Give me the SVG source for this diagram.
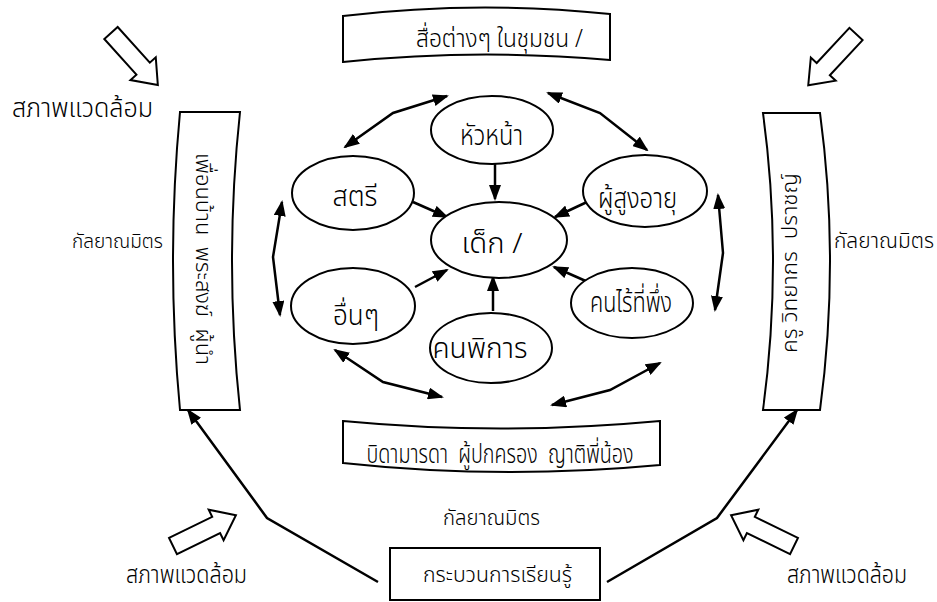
<svg xmlns="http://www.w3.org/2000/svg" width="937" height="602" viewBox="0 0 937 602">
<style>
  .shape { fill: #fff; stroke: #000; stroke-width: 2; }
  .conn { fill: none; stroke: #000; stroke-width: 2.5; }
  .t { font-family: "Noto Sans Thai", "Noto Sans", "DejaVu Sans", sans-serif; fill: #000; text-anchor: middle; font-weight: 300; }
  .blk { fill: #fff; stroke: #000; stroke-width: 2; stroke-linejoin: miter; }
</style>
<defs>
  <marker id="ah" viewBox="0 0 16 12" refX="14" refY="6" markerWidth="16" markerHeight="12" markerUnits="userSpaceOnUse" orient="auto-start-reverse">
    <path d="M0,0 L16,6 L0,12 Z" fill="#000"/>
  </marker>
  <path id="blockArrow" d="M0,-9 L48,-9 L48,-17 L70,0 L48,17 L48,9 L0,9 Z"/>
</defs>
<rect width="937" height="602" fill="#fff"/>

<g id="env-arrows">
  <use href="#blockArrow" class="blk" transform="translate(111,33) rotate(48)"/>
  <use href="#blockArrow" class="blk" transform="translate(856,34) rotate(133)"/>
  <use href="#blockArrow" class="blk" transform="translate(173,546) rotate(-26)"/>
  <use href="#blockArrow" class="blk" transform="translate(794,546) rotate(206)"/>
</g>

<g id="connectors">
  <line class="conn" x1="495" y1="164" x2="495" y2="199" marker-end="url(#ah)"/>
  <line class="conn" x1="413" y1="202" x2="447" y2="217" marker-end="url(#ah)"/>
  <line class="conn" x1="415" y1="287" x2="447" y2="270" marker-end="url(#ah)"/>
  <line class="conn" x1="493" y1="311" x2="493" y2="277" marker-end="url(#ah)"/>
  <line class="conn" x1="587" y1="202" x2="555" y2="217" marker-end="url(#ah)"/>
  <line class="conn" x1="588" y1="282" x2="554" y2="267" marker-end="url(#ah)"/>
  <polyline class="conn" points="345,147 393,113 447,96" marker-start="url(#ah)" marker-end="url(#ah)"/>
  <polyline class="conn" points="548,93 600,113 647,150" marker-start="url(#ah)" marker-end="url(#ah)"/>
  <polyline class="conn" points="282,202 273,257 280,315" marker-start="url(#ah)" marker-end="url(#ah)"/>
  <polyline class="conn" points="718,195 723,253 715,310" marker-start="url(#ah)" marker-end="url(#ah)"/>
  <polyline class="conn" points="335,350 383,382 442,397" marker-start="url(#ah)" marker-end="url(#ah)"/>
  <polyline class="conn" points="552,405 610,390 660,363" marker-start="url(#ah)" marker-end="url(#ah)"/>
  <polyline class="conn" points="378,582 267,518 188,410" marker-end="url(#ah)"/>
  <polyline class="conn" points="607,582 717,518 797,410" marker-end="url(#ah)"/>
</g>

<g id="banner-top">
  <path class="shape" d="M343,16 Q476,0 610,14 L610,60 Q476,48 343,62 Z"/>
  <text class="t" x="499.5" y="47" font-size="25" textLength="167" lengthAdjust="spacingAndGlyphs">สื่อต่างๆ ในชุมชน /</text>
</g>

<g id="banner-bottom">
  <path class="shape" d="M343,421 Q500,436 660,421 L660,465 Q500,480 343,463 Z"/>
  <text class="t" x="500" y="463" font-size="26" textLength="267" lengthAdjust="spacingAndGlyphs" xml:space="preserve">บิดามารดา  ผู้ปกครอง  ญาติพี่น้อง</text>
</g>

<g id="scroll-left">
  <path class="shape" d="M180,112 L240,112 Q224,261 240,410 L180,410 Q166,261 180,112 Z"/>
  <text class="t" font-size="22" textLength="212" lengthAdjust="spacingAndGlyphs" transform="translate(196,259) rotate(90)" xml:space="preserve">เพื่อนบ้าน  พระสงฆ์  ผู้นำ</text>
</g>

<g id="scroll-right">
  <path class="shape" d="M763,113 L820,113 Q840,261 820,410 L763,410 Q783,261 763,113 Z"/>
  <text class="t" font-size="22" textLength="180" lengthAdjust="spacingAndGlyphs" transform="translate(797,263) rotate(-90)" xml:space="preserve">ครู วิทยากร  ปราชญ์</text>
</g>

<g id="node-head">
  <ellipse class="shape" cx="492" cy="130" rx="61" ry="34"/>
  <text class="t" x="491.5" y="145" font-size="29" textLength="63" lengthAdjust="spacingAndGlyphs">หัวหน้า</text>
</g>
<g id="node-women">
  <ellipse class="shape" cx="353" cy="193" rx="61" ry="37"/>
  <text class="t" x="355" y="206" font-size="28" textLength="45" lengthAdjust="spacingAndGlyphs">สตรี</text>
</g>
<g id="node-child">
  <ellipse class="shape" cx="499" cy="240" rx="68" ry="38"/>
  <text class="t" x="492" y="253" font-size="28" textLength="61" lengthAdjust="spacingAndGlyphs">เด็ก /</text>
</g>
<g id="node-others">
  <ellipse class="shape" cx="353" cy="306" rx="62" ry="38"/>
  <text class="t" x="356" y="325" font-size="28" textLength="46" lengthAdjust="spacingAndGlyphs">อื่นๆ</text>
</g>
<g id="node-disabled">
  <ellipse class="shape" cx="491" cy="348" rx="61" ry="35"/>
  <text class="t" x="480" y="358" font-size="29" textLength="95" lengthAdjust="spacingAndGlyphs">คนพิการ</text>
</g>
<g id="node-elderly">
  <ellipse class="shape" cx="645" cy="191" rx="62" ry="36"/>
  <text class="t" x="637.5" y="208" font-size="29" textLength="79" lengthAdjust="spacingAndGlyphs">ผู้สูงอายุ</text>
</g>
<g id="node-homeless">
  <ellipse class="shape" cx="632" cy="303" rx="61" ry="35"/>
  <text class="t" x="631" y="312" font-size="29" textLength="82" lengthAdjust="spacingAndGlyphs">คนไร้ที่พึ่ง</text>
</g>

<g id="node-learning">
  <rect class="shape" x="390" y="548" width="210" height="52"/>
  <text class="t" x="497.5" y="582" font-size="22" textLength="149" lengthAdjust="spacingAndGlyphs">กระบวนการเรียนรู้</text>
</g>

<g id="labels">
  <text class="t" x="82.5" y="117" font-size="27" textLength="141" lengthAdjust="spacingAndGlyphs">สภาพแวดล้อม</text>
  <text class="t" x="117.5" y="248" font-size="19" textLength="91" lengthAdjust="spacingAndGlyphs">กัลยาณมิตร</text>
  <text class="t" x="884" y="248" font-size="21" textLength="100" lengthAdjust="spacingAndGlyphs">กัลยาณมิตร</text>
  <text class="t" x="491.5" y="525" font-size="22" textLength="97" lengthAdjust="spacingAndGlyphs">กัลยาณมิตร</text>
  <text class="t" x="186.5" y="583" font-size="24" textLength="121" lengthAdjust="spacingAndGlyphs">สภาพแวดล้อม</text>
  <text class="t" x="847" y="583" font-size="24" textLength="120" lengthAdjust="spacingAndGlyphs">สภาพแวดล้อม</text>
</g>
</svg>
